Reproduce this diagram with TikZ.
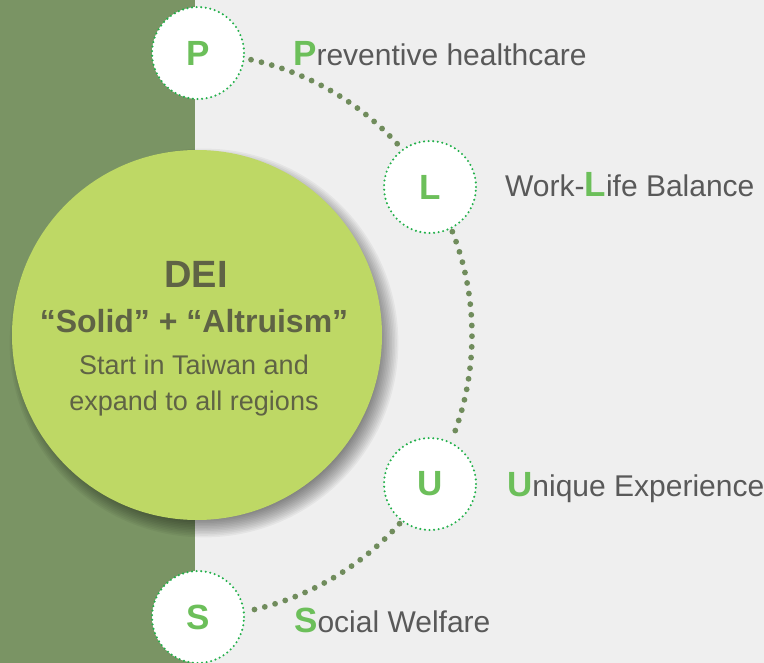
\documentclass[tikz,border=0pt]{standalone}
\usepackage{fontspec}
\setmainfont{Liberation Sans}
\definecolor{bgray}{HTML}{EFEFEF}
\definecolor{band}{HTML}{7A9464}
\definecolor{lime}{HTML}{BED865}
\definecolor{olive}{HTML}{5F6345}
\definecolor{dotg}{HTML}{708C5C}
\definecolor{ringg}{HTML}{22B04A}
\definecolor{letg}{HTML}{6CBF5A}
\definecolor{txtg}{HTML}{595959}
\newcommand{\fs}[1]{\fontsize{#1}{#1}\selectfont}
\tikzset{
  bigcirc/.style={circle, fill=lime, minimum size=370pt, inner sep=0pt},
  ring/.style={circle, fill=white, draw=ringg, line width=2.3pt, dash pattern=on 0pt off 4.6pt, line cap=round,
    minimum size=92pt, inner sep=0pt, text=letg, font=\fs{35}\bfseries},
  dotline/.style={dotg, line width=5.8pt, line cap=round, dash pattern=on 0pt off 10.7pt},
  lbl/.style={anchor=base west, inner sep=0pt, text=txtg, font=\fs{30}},
  intext/.style={anchor=base, inner sep=0pt, text=olive},
}
\newcommand{\hl}[1]{{\color{letg}\fs{35}\bfseries #1}}
\begin{document}
\begin{tikzpicture}[x=1pt,y=-1pt]
\fill[bgray] (0,0) rectangle (764,663);
\useasboundingbox (0,0) rectangle (764,663);
\fill[band] (0,0) rectangle (195,663);
\coordinate (c) at (190,335);
% soft shadow of the big circle
\foreach \k in {0,...,14}
  \fill[black, opacity=0.042] (204,343) circle[radius=172+1.6*\k];
\node[bigcirc] (dei) at (197,335) {};
\node[intext, font=\fs{38}\bfseries] (t1) at (196,288) {DEI};
\node[intext, font=\fs{32}\bfseries] (t2) at (194,333) {“Solid” + “Altruism”};
\node[intext, font=\fs{27}] (t3) at (194,375) {Start in Taiwan and};
\node[intext, font=\fs{27}] (t4) at (194,410) {expand to all regions};
% dotted arc connectors
\draw[dotline] (c) ++(-77.5:282) arc[start angle=-77.5, end angle=-42, radius=282];
\draw[dotline] (c) ++(-21.5:282) arc[start angle=-21.5, end angle=21.5, radius=282];
\draw[dotline] (c) ++(42:282) arc[start angle=42, end angle=77.8, radius=282];
\node[ring] (P) at (198,53) {P};
\node[ring] (L) at (430,187) {L};
\node[ring] (U) at (430,484) {U};
\node[ring] (S) at (198,617) {S};
\node[lbl] (lp) at (293,66) {\hl{P}reventive healthcare};
\node[lbl] (ll) at (505,197) {Work-\hl{L}ife Balance};
\node[lbl] (lu) at (507,496) {\hl{U}nique Experience};
\node[lbl] (ls) at (294,632) {\hl{S}ocial Welfare};
\end{tikzpicture}
\end{document}
